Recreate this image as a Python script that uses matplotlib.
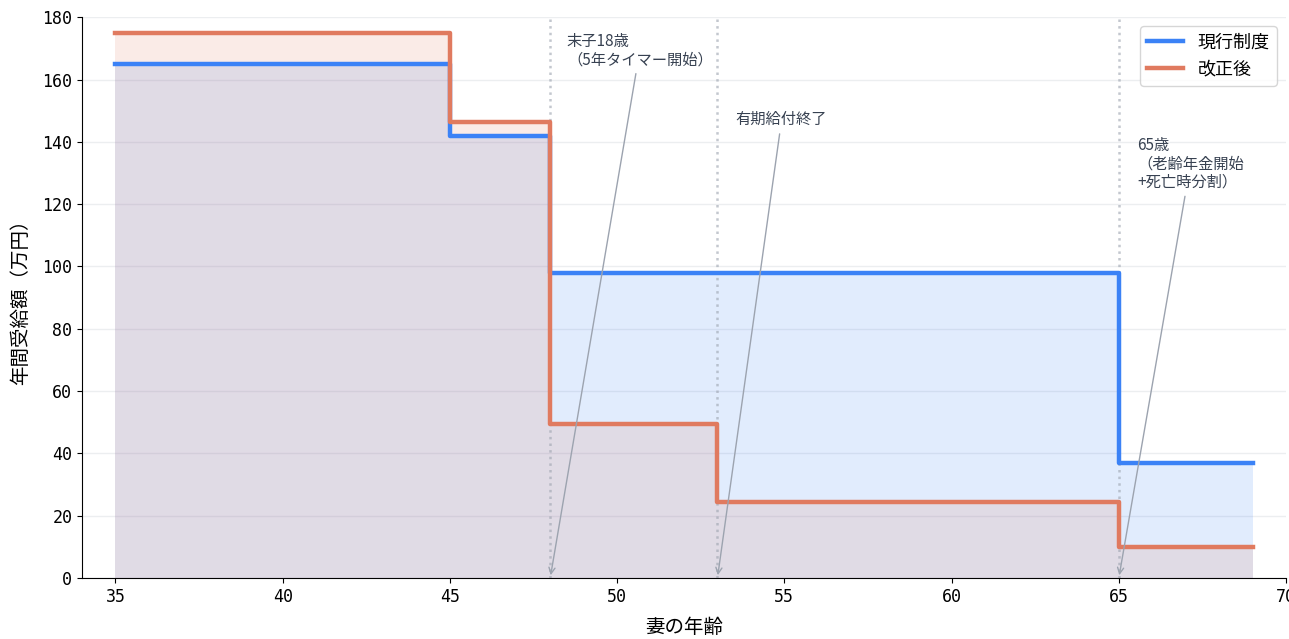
import matplotlib
matplotlib.use('Agg')
import matplotlib.pyplot as plt

plt.rcParams['font.family'] = ['DejaVu Sans Mono', 'Noto Sans CJK JP']

# step boundaries (age of wife) and annual benefit (10k yen)
ages = [35, 45, 48, 53, 65, 69]
current = [165, 142, 98, 98, 37, 37]
revised = [175, 146.5, 49.5, 24.5, 10, 10]
series_names = ['現行制度', '改正後']

events = [48, 53, 65]
event_labels = ['末子18歳\n（5年タイマー開始）', '有期給付終了', '65歳\n（老齢年金開始\n+死亡時分割）']
label_pos = [(48.5, 175), (53.55, 149.8), (65.55, 141.5)]

blue = '#3b82f6'
orange = '#e07a5f'

fig, ax = plt.subplots(figsize=(12.89, 6.39), dpi=100)
fig.subplots_adjust(left=0.0636, right=0.9977, top=0.973, bottom=0.0955)

ax.fill_between(ages, current, step='post', color=blue, alpha=0.15, lw=0)
ax.fill_between(ages, revised, step='post', color=orange, alpha=0.15, lw=0)
ax.step(ages, current, where='post', color=blue, lw=3.2, label=series_names[0])
ax.step(ages, revised, where='post', color=orange, lw=3.2, label=series_names[1])

for x, txt, pos in zip(events, event_labels, label_pos):
    ax.axvline(x, color='#9ca3af', ls=':', lw=1.8, alpha=0.6, zorder=1)
    ax.annotate(txt, xy=(x, 0), xytext=pos, fontsize=11, color='#374151',
                ha='left', va='top', linespacing=1.1,
                family=['Noto Sans CJK JP', 'DejaVu Sans'],
                arrowprops=dict(arrowstyle='->', color='#9ca3af', lw=1))

ax.set_xlim(34, 70)
ax.set_ylim(0, 180)
ax.set_xlabel('妻の年齢', fontsize=14, labelpad=8,
              family=['Noto Sans CJK JP', 'DejaVu Sans'])
ax.set_ylabel('年間受給額（万円）', fontsize=14, labelpad=8,
              family=['Noto Sans CJK JP', 'DejaVu Sans'])
ax.tick_params(labelsize=12)
ax.grid(axis='y', color='#e5e7eb', lw=1, alpha=0.7)
ax.set_axisbelow(True)
ax.spines['top'].set_visible(False)
ax.spines['right'].set_visible(False)
leg = ax.legend(loc='upper right', fontsize=13)
for t in leg.get_texts():
    t.set_family(['Noto Sans CJK JP', 'DejaVu Sans'])

fig.savefig('out.png')
plt.close()
